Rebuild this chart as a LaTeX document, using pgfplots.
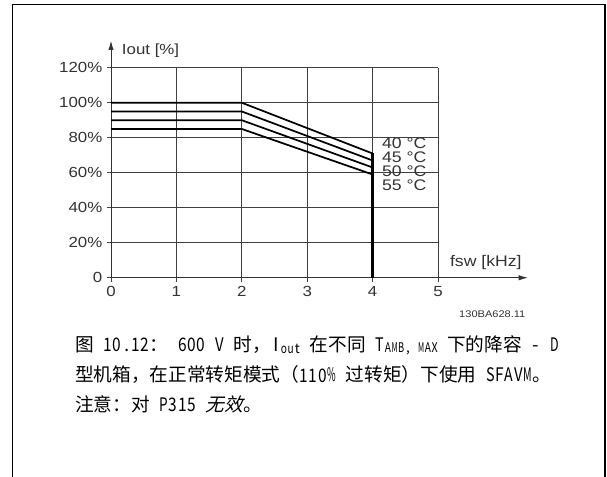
\documentclass[border=0pt]{standalone}
\usepackage{fontspec}
\setmainfont[FakeStretch=1.15]{Liberation Sans}
\newfontfamily\cjk{Noto Sans CJK SC}
\newfontfamily\cjkit[FakeSlant=0.25]{Noto Sans CJK SC}
\usepackage{graphicx}
\usepackage{pgfplots}
\pgfplotsset{compat=1.18}
\usetikzlibrary{arrows.meta}
\newsavebox\hwbox
\makeatletter
\def\hw#1{\hw@loop#1\hw@end}
\def\hw@loop#1{\ifx#1\hw@end\else\hw@char{#1}\expandafter\hw@loop\fi}
\newcommand\hw@char[1]{\sbox\hwbox{#1}\ifdim\wd\hwbox>0.48em\relax\makebox[0.5em]{\resizebox{0.46em}{\height}{#1}}\else\makebox[0.5em]{#1}\fi}
\makeatother
\newcommand\hsp{\hspace{0.5em}}
\begin{document}
\begin{tikzpicture}
\useasboundingbox (0,0) rectangle (455.25pt,-357.75pt);
\fill[white] (0,0) rectangle (455.25pt,-357.75pt);
\draw[line width=0.9pt] (9.4pt,-357.75pt) -- (9.4pt,-3.4pt) -- (453.75pt,-3.4pt) -- (453.75pt,-357.75pt);
\begin{axis}[
  at={(83.25pt,-208.3pt)}, anchor=south west,
  scale only axis, width=245.25pt, height=157.5pt,
  xmin=0, xmax=5, ymin=0, ymax=120,
  axis lines=left,
  x axis line style={black!80, line width=0.7pt, -{Latex[length=7pt,width=4pt]}, shorten >=-67.5pt},
  y axis line style={black!80, line width=0.7pt, -{Latex[length=7pt,width=4pt]}, shorten >=-20.3pt},
  grid=major,
  grid style={black!75, line width=0.6pt},
  xtick={0,1,2,3,4,5}, ytick={0,20,40,60,80,100,120},
  xticklabels={0,1,2,3,4,5},
  yticklabels={0,20\%,40\%,60\%,80\%,100\%,120\%},
  tick align=outside, major tick length=3pt,
  tick style={black!75, line width=0.6pt},
  ticklabel style={font=\fontsize{11}{11}\selectfont, text=black!80},
  clip=false,
]
\addplot[black, line width=1.3pt] coordinates {(0,100) (2,100) (4,71)};
\addplot[black, line width=1.3pt] coordinates {(0,95) (2,95) (4,67)};
\addplot[black, line width=1.3pt] coordinates {(0,90) (2,90) (4,63)};
\addplot[black, line width=1.3pt] coordinates {(0,85) (2,85) (4,59)};
\addplot[black, line width=1.7pt] coordinates {(4,71) (4,0)};
\node[anchor=west, inner sep=0, font=\fontsize{11.5}{11.5}\selectfont, text=black!80] at (axis cs:4.14,76.8) {40 °C};
\node[anchor=west, inner sep=0, font=\fontsize{11.5}{11.5}\selectfont, text=black!80] at (axis cs:4.14,68.8) {45 °C};
\node[anchor=west, inner sep=0, font=\fontsize{11.5}{11.5}\selectfont, text=black!80] at (axis cs:4.14,61.1) {50 °C};
\node[anchor=west, inner sep=0, font=\fontsize{11.5}{11.5}\selectfont, text=black!80] at (axis cs:4.14,53.0) {55 °C};
\node[anchor=west, inner sep=0, font=\fontsize{11}{11}\selectfont, text=black!80] at (axis cs:0.164,129.7) {Iout [\%]};
\node[anchor=west, inner sep=0, font=\fontsize{11.5}{11.5}\selectfont, text=black!80] at (axis cs:5.18,8.4) {fsw [kHz]};
\node[anchor=center, inner sep=0, font=\fontsize{7.2}{7.2}\selectfont, text=black!80] at (axis cs:5.83,-20.7) {130BA628.11};
\end{axis}
\node[anchor=base west, inner sep=0, font=\fontsize{14}{14}\selectfont] at (56.25pt,-263.6pt)
  {\cjk 图\hsp\hw{10.12}：\hsp\hw{600}\hsp\hw{V}\hsp 时，\hw{I}\raisebox{-1.5pt}{\fontsize{10}{10}\selectfont\hw{out}}\hsp 在不同\hsp\hw{T}\raisebox{-1pt}{\fontsize{10}{10}\selectfont\hw{AMB,~MAX}}\hsp 下的降容\hsp\hw{-}\hsp\hw{D}};
\node[anchor=base west, inner sep=0, font=\fontsize{14}{14}\selectfont] at (56.25pt,-286.5pt)
  {\cjk 型机箱，在正常转矩模式（\hw{110\%}\hsp 过转矩）下使用\hsp\hw{SFAVM}。};
\node[anchor=base west, inner sep=0, font=\fontsize{14}{14}\selectfont] at (56.25pt,-308.6pt)
  {\cjk 注意：对\hsp\hw{P315}\hsp{\cjkit 无效}。};
\end{tikzpicture}
\end{document}
